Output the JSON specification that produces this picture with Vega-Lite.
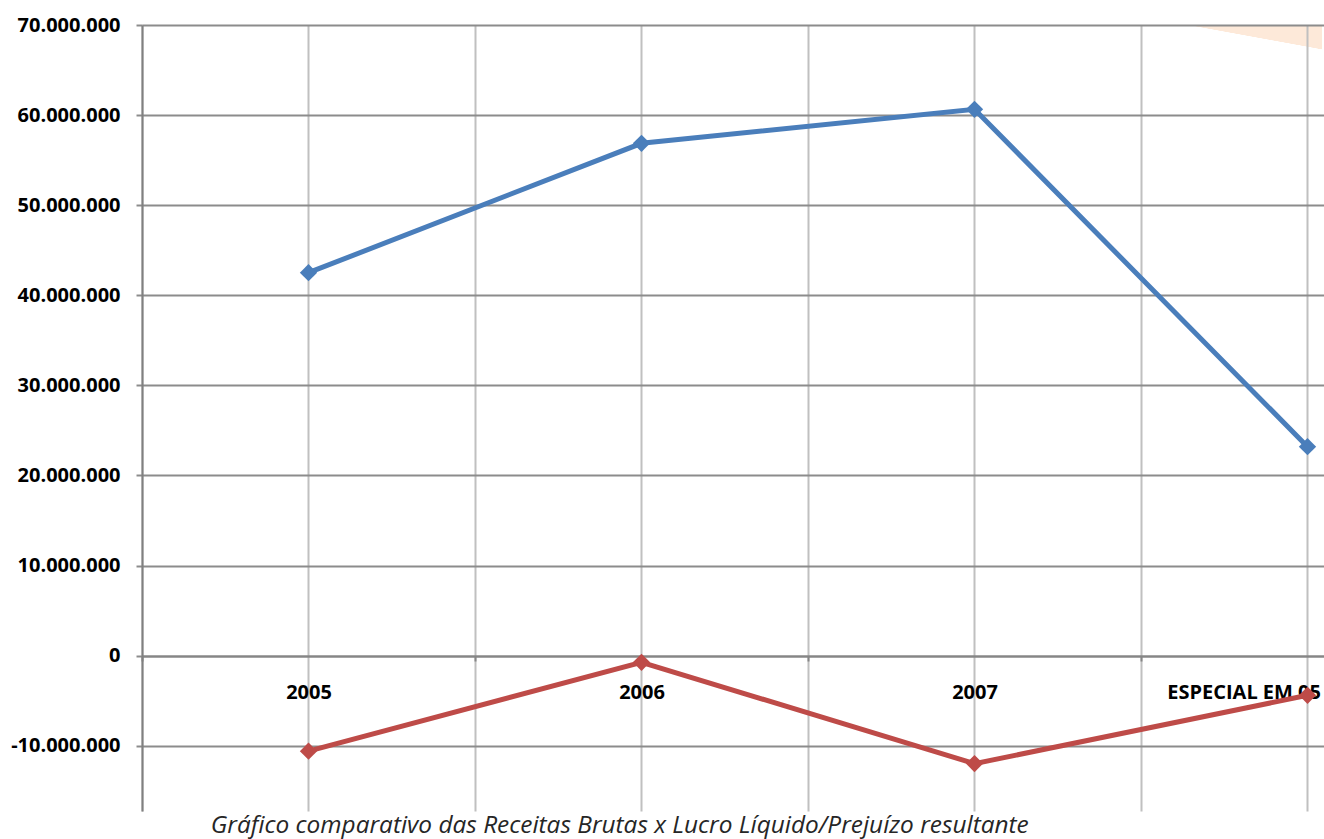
{
  "$schema": "https://vega.github.io/schema/vega-lite/v6.json",
  "width": 1180,
  "height": 786,
  "autosize": {"type": "none"},
  "padding": {"left": 142, "top": 25, "right": 2, "bottom": 28},
  "background": "#ffffff",
  "config": {
    "font": "Open Sans",
    "locale": {
      "number": {"decimal": ",", "thousands": ".", "grouping": [3], "currency": ["R$ ", ""], "minus": "-"}
    },
    "view": {
      "stroke": null,
      "fill": {
        "gradient": "linear",
        "x1": 0.8856, "y1": 0,
        "x2": 0.9169, "y2": -0.1144,
        "stops": [
          {"offset": 0, "color": "#ffffff"},
          {"offset": 0.005, "color": "#fde9d9"},
          {"offset": 1, "color": "#fde9d9"}
        ]
      }
    }
  },
  "title": {
    "text": "Gráfico comparativo das Receitas Brutas x Lucro Líquido/Prejuízo resultante",
    "orient": "bottom",
    "anchor": "start",
    "dx": 200,
    "offset": 22,
    "baseline": "alphabetic",
    "font": "Open Sans",
    "fontSize": 24.4,
    "fontStyle": "italic",
    "fontWeight": "normal",
    "color": "#262626"
  },
  "data": {
    "values": [
      {"ano": "2005", "serie": "Receitas Brutas", "valor": 42510000},
      {"ano": "2006", "serie": "Receitas Brutas", "valor": 56870000},
      {"ano": "2007", "serie": "Receitas Brutas", "valor": 60640000},
      {"ano": "ESPECIAL EM 05", "serie": "Receitas Brutas", "valor": 23200000},
      {"ano": "2005", "serie": "Lucro Líquido/Prejuízo", "valor": -10600000},
      {"ano": "2006", "serie": "Lucro Líquido/Prejuízo", "valor": -740000},
      {"ano": "2007", "serie": "Lucro Líquido/Prejuízo", "valor": -11980000},
      {"ano": "ESPECIAL EM 05", "serie": "Lucro Líquido/Prejuízo", "valor": -4400000}
    ]
  },
  "encoding": {
    "y": {
      "field": "valor",
      "type": "quantitative",
      "scale": {"domain": [-17240000, 70000000], "nice": false, "zero": false},
      "axis": {
        "title": null,
        "values": [-10000000, 0, 10000000, 20000000, 30000000, 40000000, 50000000, 60000000, 70000000],
        "format": ",d",
        "domain": true,
        "domainColor": "#808080",
        "domainWidth": 2,
        "ticks": true,
        "tickSize": 6,
        "tickColor": "#8c8c8c",
        "tickWidth": 2,
        "grid": true,
        "gridColor": "#8c8c8c",
        "gridWidth": 2,
        "labelFont": "Open Sans",
        "labelFontSize": 20,
        "labelFontWeight": "bold",
        "labelColor": "#000000",
        "labelPadding": 16
      }
    },
    "color": {
      "field": "serie",
      "type": "nominal",
      "scale": {"domain": ["Receitas Brutas", "Lucro Líquido/Prejuízo"], "range": ["#4a7ebb", "#be4b48"]},
      "legend": null
    }
  },
  "layer": [
    {
      "mark": {"type": "line", "strokeWidth": 5},
      "encoding": {
        "x": {
          "field": "ano",
          "type": "ordinal",
          "sort": null,
          "scale": {"type": "band", "range": [0, 1332], "paddingInner": 0, "paddingOuter": 0},
          "axis": {
            "title": null,
            "orient": "bottom",
            "offset": -155,
            "domain": true,
            "domainColor": "#868686",
            "domainWidth": 2,
            "ticks": true,
            "tickBand": "extent",
            "tickSize": 5,
            "tickColor": "#868686",
            "tickWidth": 2,
            "grid": true,
            "gridColor": "#c0c0c0",
            "gridWidth": 2,
            "labelAngle": 0,
            "labelFont": "Open Sans",
            "labelFontSize": 20,
            "labelFontWeight": "bold",
            "labelColor": "#000000",
            "labelPadding": 21,
            "labelBound": false,
            "labelOverlap": false,
            "labelAlign": {"condition": {"test": "datum.value === 'ESPECIAL EM 05'", "value": "right"}, "value": "center"},
            "labelOffset": {"condition": {"test": "datum.value === 'ESPECIAL EM 05'", "value": 13}, "value": 0}
          }
        }
      }
    },
    {
      "mark": {"type": "point", "shape": "diamond", "filled": true, "size": 300, "opacity": 1},
      "encoding": {
        "x": {
          "field": "ano",
          "type": "ordinal",
          "sort": null,
          "scale": {"type": "band", "range": [0, 1332], "paddingInner": 0, "paddingOuter": 0},
          "axis": {
            "title": null,
            "orient": "top",
            "domain": false,
            "ticks": false,
            "labels": false,
            "grid": true,
            "gridColor": "#c0c0c0",
            "gridWidth": 2
          }
        }
      }
    }
  ],
  "resolve": {"axis": {"x": "independent"}}
}
